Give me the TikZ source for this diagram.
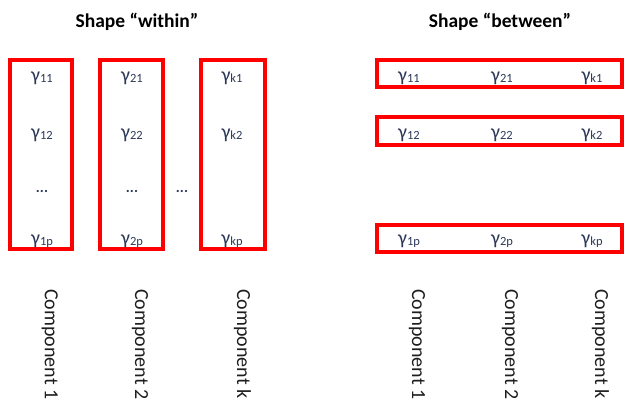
\documentclass[tikz,border=0pt]{standalone}
\usepackage{fontspec}
\setmainfont{Carlito}
\definecolor{gamcol}{HTML}{2B3857}
\definecolor{boxred}{HTML}{FF0000}
\definecolor{labcol}{HTML}{1E1E1E}
% coefficient gamma with a small lowered index
\newcommand{\coef}[1]{γ\raisebox{-1.2pt}{\fontsize{12.5}{12.5}\selectfont #1}}
\tikzset{
  redbox/.style={draw=boxred, line width=4pt},
  gam/.style={anchor=base, inner sep=0pt, text=gamcol, font=\fontsize{20}{20}\selectfont},
  dotsnode/.style={anchor=base, inner sep=0pt, text=gamcol, font=\bfseries\fontsize{15}{15}\selectfont},
  comp/.style={rotate=-90, anchor=base west, inner sep=0pt, text=labcol, font=\fontsize{20}{20}\selectfont},
  heading/.style={anchor=base, inner sep=0pt, font=\bfseries\fontsize{19.5}{19.5}\selectfont}
}
\begin{document}
\begin{tikzpicture}[x=1pt, y=-1pt]
\useasboundingbox (0,0) rectangle (625,400);

% headings
\node[heading] (t1) at (137,27) {Shape “within”};
\node[heading] (t2) at (500,27) {Shape “between”};

% --- within: one column box per component ---
\draw[redbox] (10,60) rectangle (72,249);
\draw[redbox] (100,60) rectangle (163,249);
\draw[redbox] (201,60) rectangle (265,249);

\node[gam] (a11) at (42,81.5) {\coef{11}};
\node[gam] (a12) at (42,138.5) {\coef{12}};
\node[dotsnode] (a1d) at (42,192) {...};
\node[gam] (a1p) at (42,244) {\coef{1p}};

\node[gam] (a21) at (132,81.5) {\coef{21}};
\node[gam] (a22) at (132,138.5) {\coef{22}};
\node[dotsnode] (a2d) at (132,192) {...};
\node[gam] (a2p) at (132,244) {\coef{2p}};

\node[dotsnode] (mid) at (182,192) {...};

\node[gam] (ak1) at (232,81.5) {\coef{k1}};
\node[gam] (ak2) at (232,138.5) {\coef{k2}};
\node[gam] (akp) at (232,244) {\coef{kp}};

% --- between: one row box per coefficient ---
\draw[redbox] (377,60) rectangle (622,87);
\draw[redbox] (377,117) rectangle (622,145);
\draw[redbox] (377,225) rectangle (622,252);

\node[gam] (b11) at (409,81) {\coef{11}};
\node[gam] (b21) at (502,81) {\coef{21}};
\node[gam] (bk1) at (592,81) {\coef{k1}};
\node[gam] (b12) at (409,138) {\coef{12}};
\node[gam] (b22) at (502,138) {\coef{22}};
\node[gam] (bk2) at (592,138) {\coef{k2}};
\node[gam] (b1p) at (409,244) {\coef{1p}};
\node[gam] (b2p) at (502,244) {\coef{2p}};
\node[gam] (bkp) at (592,244) {\coef{kp}};

% component labels
\node[comp] (c1) at (45,289) {Component 1};
\node[comp] (c2) at (135,289) {Component 2};
\node[comp] (ck) at (237,289) {Component k};
\node[comp] (d1) at (412,289) {Component 1};
\node[comp] (d2) at (505,289) {Component 2};
\node[comp] (dk) at (595,289) {Component k};
\end{tikzpicture}
\end{document}
